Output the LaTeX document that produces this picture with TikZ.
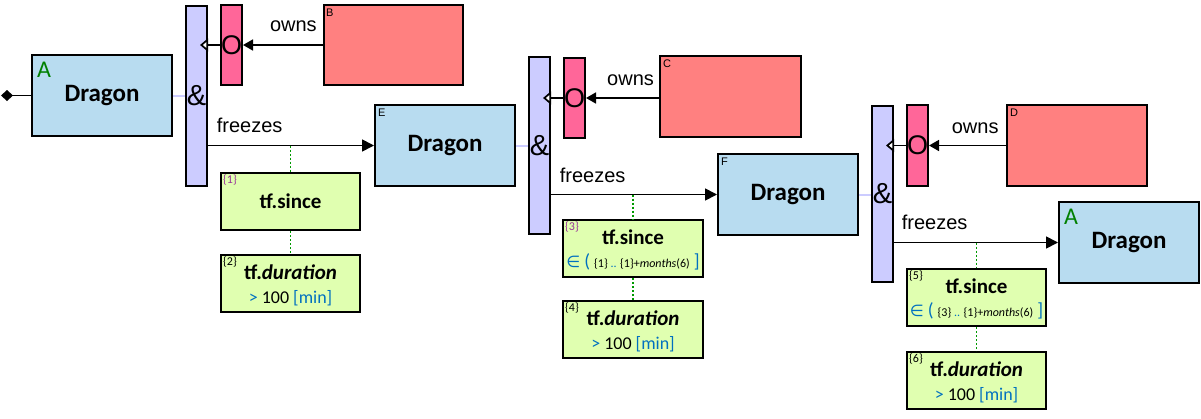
\documentclass[tikz,border=0pt]{standalone}
\usepackage{fontspec}
\setmainfont{Carlito}
\newfontfamily\arialf{Liberation Sans}
\newfontfamily\dejaf{DejaVu Sans}
\usetikzlibrary{arrows.meta}
\definecolor{dragonblue}{HTML}{B8DCF0}
\definecolor{andlav}{HTML}{CCCCFF}
\definecolor{orpink}{HTML}{FF6699}
\definecolor{refred}{HTML}{FF8080}
\definecolor{tfgreen}{HTML}{E0FFB0}
\definecolor{idpurple}{HTML}{993399}
\definecolor{valblue}{HTML}{0070C0}
\definecolor{agreen}{HTML}{008000}
\definecolor{dotgreen}{HTML}{009900}
\newcommand{\fsz}[1]{\fontsize{#1}{#1}\selectfont}
\begin{document}
\begin{tikzpicture}[x=1pt,y=-1pt,
  bx/.style={draw=black, line width=2pt, rectangle, anchor=north west, inner sep=0pt},
  dragonbox/.style={bx, fill=dragonblue, minimum width=140pt, minimum height=81pt, font=\fsz{25}\bfseries},
  andbar/.style={bx, fill=andlav, minimum width=21pt, font=\arialf\fsz{29}},
  orbox/.style={bx, fill=orpink, minimum width=21pt, minimum height=80pt, font=\arialf\fsz{27}},
  refbox/.style={bx, fill=refred, minimum width=140pt, minimum height=81pt},
  tfbox/.style={bx, fill=tfgreen, minimum width=139pt, minimum height=57pt},
  tftitle/.style={anchor=base, inner sep=0pt, font=\fsz{21}\bfseries},
  tfval/.style={anchor=base, inner sep=0pt, font=\fsz{18}},
  idlbl/.style={anchor=north west, inner sep=0pt, font=\fsz{12}},
  tinylbl/.style={anchor=north west, inner sep=0pt, font=\arialf\fsz{11}},
  albl/.style={anchor=north west, inner sep=0pt, font=\fsz{24}, text=agreen},
  conn/.style={draw=black, line width=1.7pt},
  ownsarr/.style={conn, -{Triangle[length=10pt,width=11pt]}},
  frzarr/.style={conn, -{Triangle[length=12pt,width=12pt]}},
  openarr/.style={conn, -{Triangle[length=8pt,width=13pt,fill=white]}, shorten >=-8pt},
  startarr/.style={conn, {Diamond[length=12pt,width=11pt]}-},
  lavline/.style={draw=andlav, line width=2pt},
  dotl/.style={draw=dotgreen, line width=1.6pt, dash pattern=on 2pt off 2pt},
  lbl/.style={font=\arialf\fsz{20}, inner sep=0pt},
]
\useasboundingbox (0,0) rectangle (1201,418);

% ---------- group 1
\coordinate (start) at (1,95.5);
\node[dragonbox] (dA) at (31,54) {Dragon};
\node[albl] (dAl) at ([xshift=6pt,yshift=-8pt]dA.north west) {A};
\node[andbar, minimum height=180pt] (amp1) at (185,5) {\&};
\node[orbox] (o1) at (220,4) {O};
\node[refbox, minimum width=139pt, minimum height=80pt] (rB) at (323,4) {};
\node[tinylbl] (rBl) at ([xshift=3pt,yshift=-5pt]rB.north west) {B};
\node[tfbox] (s1) at (220,172) {};
\node[idlbl, text=idpurple] (s1l) at ([xshift=3pt,yshift=-3pt]s1.north west) {\{1\}};
\node[tftitle] (s1t) at ([yshift=-36pt]s1.north) {tf.since};
\node[tfbox] (d2) at (220,254) {};
\node[idlbl] (d2l) at ([xshift=3pt,yshift=-3pt]d2.north west) {\{2\}};
\node[tftitle] (d2t) at ([yshift=-25pt]d2.north) {tf.\textit{duration}};
\node[tfval] (d2v) at ([yshift=-49pt]d2.north) {\textcolor{valblue}{>} 100 \textcolor{valblue}{[min]}};

% ---------- group 2
\node[dragonbox] (dE) at (374,104) {Dragon};
\node[tinylbl] (dEl) at ([xshift=4pt,yshift=-5pt]dE.north west) {E};
\node[andbar, minimum height=177pt] (amp2) at (528,56) {\&};
\node[orbox] (o2) at (563,57) {O};
\node[refbox, minimum width=141pt] (rC) at (659,55) {};
\node[tinylbl] (rCl) at ([xshift=4pt,yshift=-5pt]rC.north west) {C};
\node[tfbox, minimum width=140pt] (s3) at (562,219) {};
\node[idlbl, text=idpurple] (s3l) at ([xshift=3pt,yshift=-3pt]s3.north west) {\{3\}};
\node[tftitle] (s3t) at ([yshift=-25pt]s3.north) {tf.since};
\node[tfval] (s3v) at ([yshift=-48pt]s3.north) {\textcolor{valblue}{{\dejaf\fsz{16}∈} \fsz{19}(}\ {\fsz{12}\{1\} \textcolor{valblue}{..} \{1\}+\textit{months}(6)}\ \textcolor{valblue}{\fsz{19}]}};
\node[tfbox, minimum width=140pt] (d4) at (562,300) {};
\node[idlbl] (d4l) at ([xshift=3pt,yshift=-3pt]d4.north west) {\{4\}};
\node[tftitle] (d4t) at ([yshift=-25pt]d4.north) {tf.\textit{duration}};
\node[tfval] (d4v) at ([yshift=-49pt]d4.north) {\textcolor{valblue}{>} 100 \textcolor{valblue}{[min]}};

% ---------- group 3
\node[dragonbox] (dF) at (717,153) {Dragon};
\node[tinylbl] (dFl) at ([xshift=4pt,yshift=-5pt]dF.north west) {F};
\node[andbar, minimum height=176pt] (amp3) at (871,105) {\&};
\node[orbox, minimum height=81pt] (o3) at (906,104) {O};
\node[refbox] (rD) at (1006,104) {};
\node[tinylbl] (rDl) at ([xshift=4pt,yshift=-5pt]rD.north west) {D};
\node[dragonbox] (dA2) at (1058,201) {Dragon};
\node[albl] (dA2l) at ([xshift=6pt,yshift=-8pt]dA2.north west) {A};
\node[tfbox] (s5) at (906,268) {};
\node[idlbl] (s5l) at ([xshift=3pt,yshift=-3pt]s5.north west) {\{5\}};
\node[tftitle] (s5t) at ([yshift=-25pt]s5.north) {tf.since};
\node[tfval] (s5v) at ([yshift=-48pt]s5.north) {\textcolor{valblue}{{\dejaf\fsz{16}∈} \fsz{19}(}\ {\fsz{12}\{3\} \textcolor{valblue}{..} \{1\}+\textit{months}(6)}\ \textcolor{valblue}{\fsz{19}]}};
\node[tfbox] (d6) at (906,351) {};
\node[idlbl] (d6l) at ([xshift=3pt,yshift=-3pt]d6.north west) {\{6\}};
\node[tftitle] (d6t) at ([yshift=-25pt]d6.north) {tf.\textit{duration}};
\node[tfval] (d6v) at ([yshift=-49pt]d6.north) {\textcolor{valblue}{>} 100 \textcolor{valblue}{[min]}};

% ---------- connectors group 1
\draw[startarr] (start) -- (dA.west);
\draw[lavline] (dA.east) -- (dA.east -| amp1.west);
\draw[ownsarr] (rB.west) -- node[lbl, pos=0.37, above=12pt] (ow1) {owns} (o1.east);
\draw[openarr] (o1.west) -- (o1.west -| amp1.east);
\draw[frzarr] (amp1.east |- dE.west) -- node[lbl, pos=0, anchor=south west, xshift=8pt, yshift=12pt] (fr1) {freezes} (dE.west);
\draw[dotl] (s1.north |- dE.west) -- (s1.north);
\draw[dotl] (s1.south) -- (d2.north);

% ---------- connectors group 2
\draw[lavline] (dE.east) -- (dE.east -| amp2.west);
\draw[ownsarr] (o2.east -| rC.west) -- node[lbl, pos=0.39, above=11pt] (ow2) {owns} (o2.east);
\draw[openarr] (o2.west) -- (o2.west -| amp2.east);
\draw[frzarr] (amp2.east |- dF.west) -- node[lbl, pos=0, anchor=south west, xshift=8pt, yshift=11pt] (fr2) {freezes} (dF.west);
\draw[dotl] (s3.north |- dF.west) -- (s3.north);
\draw[dotl] (s3.south) -- (d4.north);

% ---------- connectors group 3
\draw[lavline] (dF.east) -- (dF.east -| amp3.west);
\draw[ownsarr] (o3.east -| rD.west) -- node[lbl, pos=0.40, above=11pt] (ow3) {owns} (o3.east);
\draw[openarr] (o3.west) -- (o3.west -| amp3.east);
\draw[frzarr] (amp3.east |- dA2.west) -- node[lbl, pos=0, anchor=south west, xshift=7pt, yshift=12pt] (fr3) {freezes} (dA2.west);
\draw[dotl] (s5.north |- dA2.west) -- (s5.north);
\draw[dotl] (s5.south) -- (d6.north);
\end{tikzpicture}
\end{document}
